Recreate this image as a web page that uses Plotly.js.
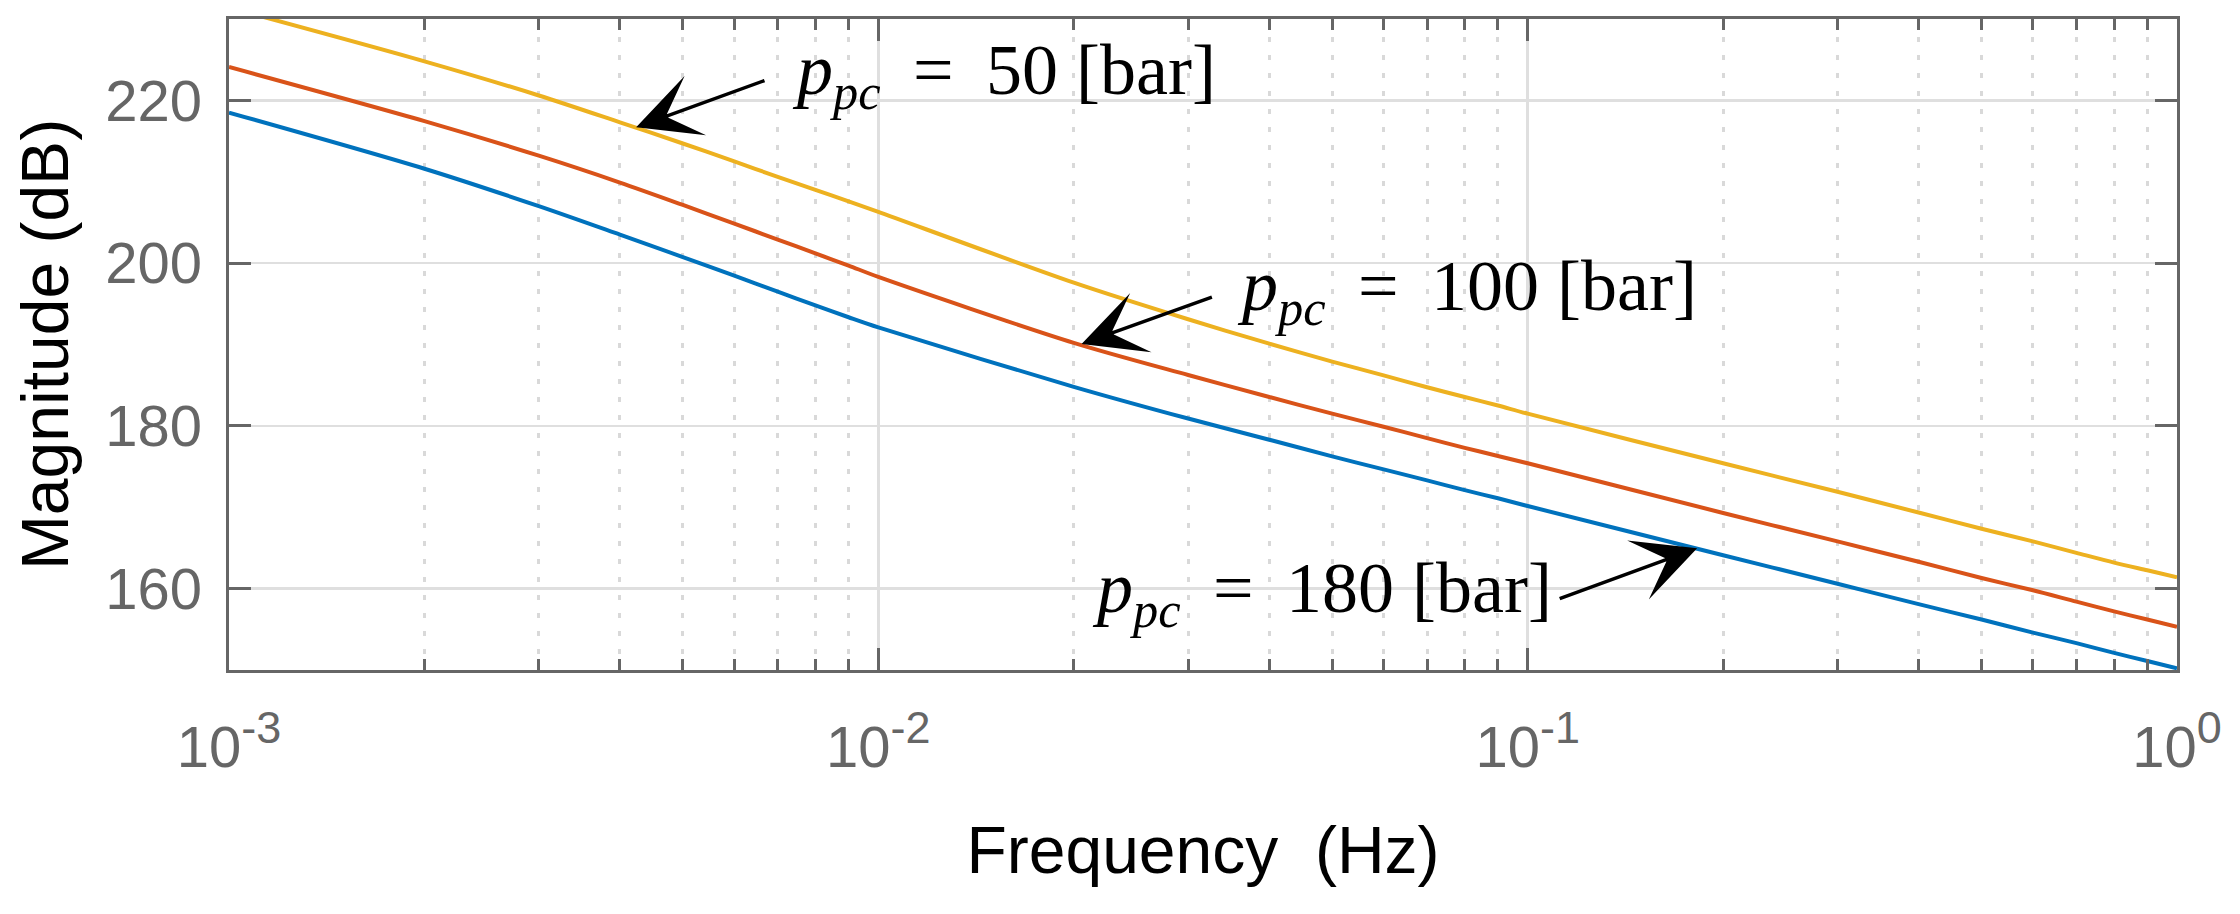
<!DOCTYPE html>
<html>
<head>
<meta charset="utf-8">
<script src="https://cdn.plot.ly/plotly-3.0.1.min.js"></script>
<style>
  html, body { margin: 0; padding: 0; background: #ffffff; }
  #chart { width: 2240px; height: 914px; }
</style>
</head>
<body>
<div id="chart"></div>
<script>
// Frequency samples (Hz)
const freq = [0.001, 0.002, 0.003, 0.004, 0.005, 0.006, 0.007, 0.008, 0.009,
              0.01, 0.02, 0.03, 0.04, 0.05, 0.06, 0.07, 0.08, 0.09,
              0.1, 0.2, 0.3, 0.4, 0.5, 0.6, 0.7, 0.8, 0.9, 1.0];

// Magnitude (dB) for p_pc = 180 bar (blue)
const mag180 = [218.5, 211.6, 207.0, 203.5, 200.75, 198.45, 196.5, 194.8, 193.35,
                192.1, 184.8, 180.9, 178.3, 176.25, 174.65, 173.3, 172.1, 171.1,
                170.15, 164.1, 160.6, 158.1, 156.2, 154.6, 153.3, 152.1, 151.1, 150.2];

// Magnitude (dB) for p_pc = 100 bar (red)
const mag100 = [224.1, 217.45, 213.2, 209.9, 207.15, 204.85, 202.9, 201.2, 199.7,
                198.3, 190.2, 186.25, 183.55, 181.5, 179.9, 178.5, 177.3, 176.3,
                175.4, 169.3, 165.8, 163.3, 161.3, 159.8, 158.4, 157.2, 156.2, 155.3];

// Magnitude (dB) for p_pc = 50 bar (yellow)
const mag50 = [231.4, 224.8, 220.6, 217.3, 214.7, 212.5, 210.6, 209.0, 207.6,
               206.3, 197.6, 193.1, 190.1, 187.9, 186.2, 184.75, 183.55, 182.5,
               181.5, 175.4, 171.9, 169.35, 167.35, 165.8, 164.4, 163.2, 162.25, 161.4];

// Tick labels
const xTickVals = [0.001, 0.01, 0.1, 1];
const xTickExp = ['-3', '-2', '-1', '0'];
const yTickVals = [160, 180, 200, 220];
const yTickText = ['160', '180', '200', '220'];

// Series labels
const seriesLabels = ['p_pc = 180 [bar]', 'p_pc = 100 [bar]', 'p_pc = 50 [bar]'];
const pressures = ['50', '100', '180'];

const xTickText = xTickExp.map(e => '10<sup><span style="font-size:45px">' + e + '</span></sup>');
const annoTexts = pressures.map(p => '<i>p</i><sub><i>pc</i></sub> \u2009=\u2009 ' + p + ' [bar]');

// minor tick positions (2..9 in each decade)
const minorVals = [];
for (let d = -3; d < 0; d++) {
  for (let m = 2; m <= 9; m++) minorVals.push(m * Math.pow(10, d));
}

const colors = ['#0072BD', '#D95319', '#EDB120'];
const series = [mag180, mag100, mag50];

const traces = series.map((s, i) => ({
  type: 'scatter',
  mode: 'lines',
  x: freq,
  y: s,
  name: seriesLabels[i],
  line: { color: colors[i], width: 4, shape: 'spline', smoothing: 0.8 },
  hoverinfo: 'skip',
  showlegend: false
}));

const axisGray = '#666666';

const arrowCommon = {
  xref: 'x', yref: 'y', axref: 'x', ayref: 'y',
  text: '', showarrow: true,
  arrowhead: 3, arrowsize: 3, arrowwidth: 3.5, arrowcolor: '#000000',
  standoff: 0, startstandoff: 0
};
const textCommon = {
  xref: 'x', yref: 'y', showarrow: false,
  xanchor: 'left', yanchor: 'middle',
  font: { family: 'Liberation Serif, Times New Roman, serif', size: 72, color: '#000000' }
};

const annotations = [
  // arrows (tip at x,y ; tail at ax,ay), x in log10 units
  Object.assign({}, arrowCommon, { x: -2.373, y: 216.7, ax: -2.173, ay: 222.5 }),
  Object.assign({}, arrowCommon, { x: -1.687, y: 190.07, ax: -1.484, ay: 195.9 }),
  Object.assign({}, arrowCommon, { x: -0.739, y: 164.95, ax: -0.953, ay: 158.7 }),
  // labels
  Object.assign({}, textCommon, { x: -2.136, y: 223.1, text: annoTexts[0] }),
  Object.assign({}, textCommon, { x: -1.451, y: 196.6, text: annoTexts[1] }),
  Object.assign({}, textCommon, { x: -1.674, y: 159.5, text: annoTexts[2] })
];

const layout = {
  width: 2240,
  height: 914,
  margin: { l: 229, r: 63, t: 19, b: 244, pad: 0 },
  paper_bgcolor: '#ffffff',
  plot_bgcolor: '#ffffff',
  font: { family: 'Liberation Sans, Arial, Helvetica, sans-serif', color: '#000000' },
  showlegend: false,
  xaxis: {
    type: 'log',
    range: [-3, 0],
    autorange: false,
    tickmode: 'array',
    tickvals: xTickVals,
    ticktext: xTickText,
    ticks: 'inside',
    ticklen: 22,
    tickwidth: 3,
    tickcolor: axisGray,
    showline: true,
    linecolor: axisGray,
    linewidth: 3.3,
    mirror: 'ticks',
    showgrid: true,
    gridcolor: '#dfdfdf',
    gridwidth: 2.5,
    zeroline: false,
    ticklabelstandoff: 24,
    tickfont: { family: 'Liberation Sans, Arial, sans-serif', size: 58, color: axisGray },
    minor: {
      tickmode: 'array',
      tickvals: minorVals,
      ticks: 'inside',
      ticklen: 11,
      tickwidth: 3,
      tickcolor: axisGray,
      showgrid: true,
      gridcolor: '#d9d9d9',
      gridwidth: 3,
      griddash: '5px,13px'
    },
    title: {
      text: 'Frequency\u00a0 (Hz)',
      font: { family: 'Liberation Sans, Arial, sans-serif', size: 66, color: '#000000' },
      standoff: 50
    }
  },
  yaxis: {
    range: [150, 230],
    autorange: false,
    tickmode: 'array',
    tickvals: yTickVals,
    ticktext: yTickText,
    ticks: 'inside',
    ticklen: 22,
    tickwidth: 3,
    tickcolor: axisGray,
    showline: true,
    linecolor: axisGray,
    linewidth: 3.3,
    mirror: 'ticks',
    showgrid: true,
    gridcolor: '#dfdfdf',
    gridwidth: 2.5,
    zeroline: false,
    ticklabelstandoff: 12,
    tickfont: { family: 'Liberation Sans, Arial, sans-serif', size: 58, color: axisGray },
    title: {
      text: 'Magnitude (dB)',
      font: { family: 'Liberation Sans, Arial, sans-serif', size: 66, color: '#000000' },
      standoff: 16
    }
  },
  annotations: annotations
};

Plotly.newPlot('chart', traces, layout, { staticPlot: true, displayModeBar: false, responsive: false });
</script>
</body>
</html>
